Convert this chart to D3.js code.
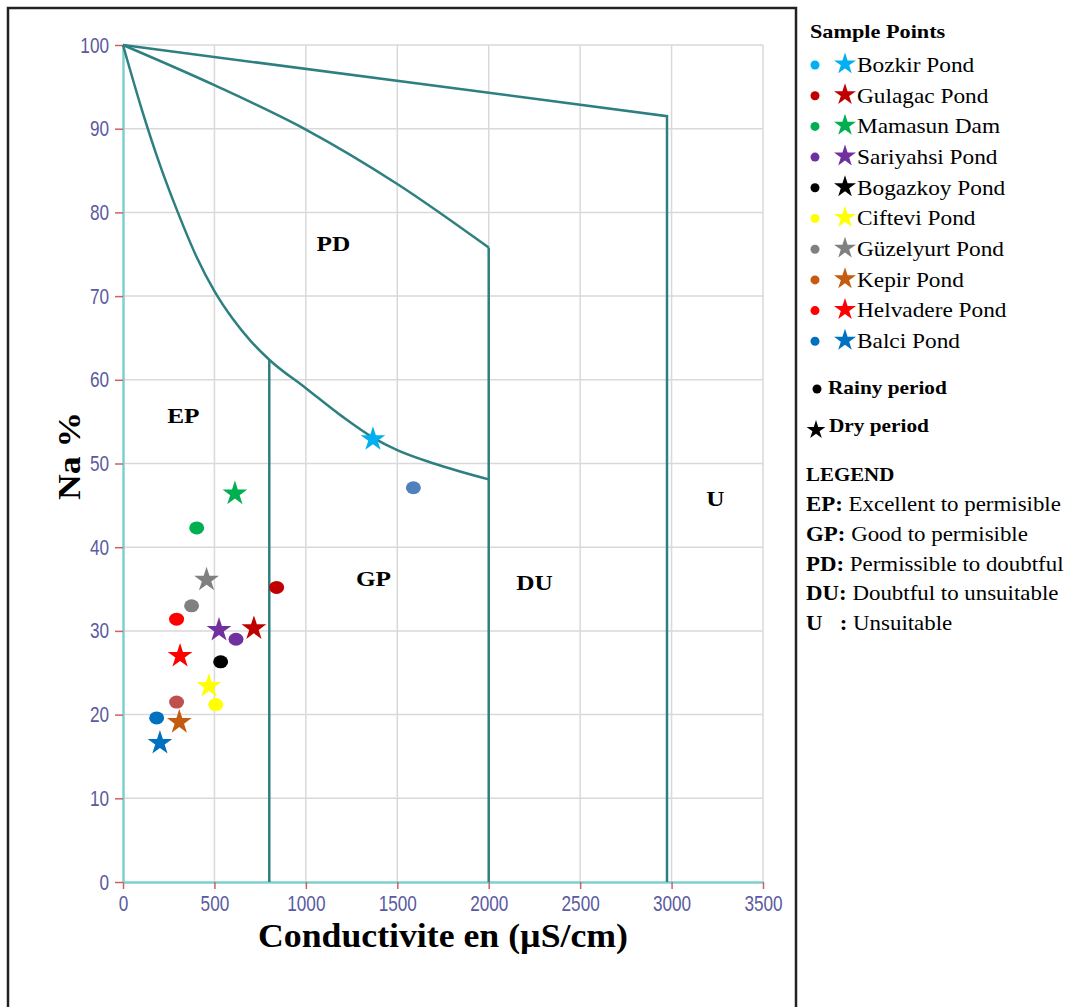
<!DOCTYPE html>
<html>
<head>
<meta charset="utf-8">
<script src="https://cdn.jsdelivr.net/npm/d3@7"></script>
<style>
  body { margin: 0; background: #fff; }
  svg { display: block; }
</style>
</head>
<body>
<div class="chart"></div>
<script>
// Ponds, colours and the two sampling periods (x = conductivity, y = Na %).
const ponds = ["Bozkir Pond", "Gulagac Pond", "Mamasun Dam", "Sariyahsi Pond", "Bogazkoy Pond",
  "Ciftevi Pond", "Güzelyurt Pond", "Kepir Pond", "Helvadere Pond", "Balci Pond"];
const pondColors = ["#00b0f0", "#c00000", "#00b050", "#7030a0", "#000000",
  "#ffff00", "#808080", "#c55a11", "#ff0000", "#0070c0"];
// colours actually used for the rainy dots in the plot
const rainyColors = ["#4f81bd", "#c00000", "#00b050", "#7030a0", "#000000",
  "#ffff00", "#808080", "#c0504d", "#ff0000", "#0070c0"];
const rainyEC = [1588, 840, 403, 618, 534, 507, 375, 293, 293, 184];
const rainyNa = [47.1, 35.2, 42.3, 29.0, 26.3, 21.2, 33.0, 21.5, 31.4, 19.6];
const dryEC = [1367, 716, 612, 525, null, 470, 457, 308, 312, 202];
const dryNa = [52.9, 30.3, 46.4, 30.1, null, 23.4, 36.1, 19.1, 27.0, 16.6];

// Wilcox boundaries
const upperLine = [[0, 100], [2975, 91.5], [2975, 0]];
const middleCurve = [[0, 100], [500, 95.2], [1000, 89.9], [1500, 83.4], [2000, 75.8]];
const middleDrop = [[2000, 75.8], [2000, 0]];
const lowerCurve = [[0, 100], [100, 92.5], [200, 85.8], [300, 80], [400, 74.8], [500, 70.6],
  [600, 67.3], [700, 64.6], [800, 62.4], [1000, 59], [1200, 55.6], [1367, 53.1], [1500, 51.6],
  [1700, 50], [2000, 48.1]];
const epLine = [[800, 62.4], [800, 0]];

const zoneLabels = ["PD", "EP", "GP", "DU", "U"];
const zoneX = [1150, 330, 1370, 2250, 3240];
const zoneY = [76, 55.5, 36, 35.5, 45.5];

const xTicks = [0, 500, 1000, 1500, 2000, 2500, 3000, 3500];
const yTicks = [0, 10, 20, 30, 40, 50, 60, 70, 80, 90, 100];

const legendKeys = ["EP", "GP", "PD", "DU", "U   "];
const legendTexts = ["Excellent to permisible", "Good to permisible",
  "Permissible to doubtful", "Doubtful to unsuitable", "Unsuitable"];

const width = 1072, height = 1007;
const plot = { left: 123, right: 763, top: 45, bottom: 882 };
const serif = "'Liberation Serif', 'Times New Roman', serif";
const sans = "'Liberation Sans', Arial, sans-serif";
const teal = "#2e8080";

// widen / narrow a text selection horizontally
function stretch(sel, k) {
  sel.each(function () {
    const len = this.getComputedTextLength();
    d3.select(this).attr("textLength", len * k).attr("lengthAdjust", "spacingAndGlyphs");
  });
}

const svg = d3.select(".chart").append("svg")
  .attr("width", width).attr("height", height);

// outer frame
svg.append("rect").attr("x", 8).attr("y", 8).attr("width", 788).attr("height", 1010)
  .attr("fill", "none").attr("stroke", "#222").attr("stroke-width", 2.5);

const xScale = d3.scaleLinear().domain([0, 3500]).range([plot.left, plot.right]);
const yScale = d3.scaleLinear().domain([0, 100]).range([plot.bottom, plot.top]);

// grid
const grid = svg.append("g").attr("stroke", "#d9d9d9").attr("stroke-width", 1.5);
grid.selectAll("line.v").data(xTicks.slice(1)).join("line")
  .attr("x1", d => xScale(d)).attr("x2", d => xScale(d))
  .attr("y1", plot.top).attr("y2", plot.bottom);
grid.selectAll("line.h").data(yTicks.slice(1)).join("line")
  .attr("x1", plot.left).attr("x2", plot.right)
  .attr("y1", d => yScale(d)).attr("y2", d => yScale(d));

// axes
const xAxis = svg.append("g").attr("transform", `translate(0,${plot.bottom})`)
  .call(d3.axisBottom(xScale).tickValues(xTicks).tickFormat(d3.format("d"))
    .tickSize(7).tickSizeOuter(0).tickPadding(6));
const yAxis = svg.append("g").attr("transform", `translate(${plot.left},0)`)
  .call(d3.axisLeft(yScale).tickValues(yTicks).tickFormat(d3.format("d"))
    .tickSize(8).tickSizeOuter(0).tickPadding(6));
[xAxis, yAxis].forEach(a => {
  a.select(".domain").attr("stroke", "#7fcfcf").attr("stroke-width", 2.5);
  a.selectAll(".tick line").attr("stroke", "#d06060").attr("stroke-width", 1.5);
  a.selectAll(".tick text").attr("fill", "#5a5aa0")
    .style("font-family", sans).style("font-size", "22px");
  stretch(a.selectAll(".tick text"), 0.78);
});

// boundary lines
const line = d3.line().x(d => xScale(d[0])).y(d => yScale(d[1]));
const curve = d3.line().x(d => xScale(d[0])).y(d => yScale(d[1])).curve(d3.curveMonotoneX);
svg.append("g").attr("fill", "none").attr("stroke", teal).attr("stroke-width", 2.5)
  .selectAll("path").data([upperLine, middleDrop, epLine]).join("path").attr("d", line);
svg.append("g").attr("fill", "none").attr("stroke", teal).attr("stroke-width", 2.5)
  .selectAll("path").data([middleCurve, lowerCurve]).join("path").attr("d", curve);

// zone labels
const zones = svg.append("g").selectAll("text").data(zoneLabels).join("text")
  .attr("x", (d, i) => xScale(zoneX[i])).attr("y", (d, i) => yScale(zoneY[i]))
  .attr("text-anchor", "middle").attr("dominant-baseline", "middle")
  .style("font-family", serif).style("font-weight", "bold").style("font-size", "22px")
  .text(d => d);
stretch(zones, 1.15);

// points
const star = d3.symbol().type(d3.symbolStar);
const pts = svg.append("g");
pts.selectAll("ellipse").data(ponds).join("ellipse")
  .attr("cx", (d, i) => xScale(rainyEC[i])).attr("cy", (d, i) => yScale(rainyNa[i]))
  .attr("rx", 7.5).attr("ry", 6.5)
  .attr("fill", (d, i) => rainyColors[i]);
pts.selectAll("path").data(ponds.map((p, i) => i).filter(i => dryEC[i] !== null)).join("path")
  .attr("transform", i => `translate(${xScale(dryEC[i])},${yScale(dryNa[i])})`)
  .attr("d", star.size(190)())
  .attr("fill", i => pondColors[i]);

// axis titles
svg.append("text").attr("x", 443).attr("y", 947).attr("text-anchor", "middle")
  .attr("textLength", 370).attr("lengthAdjust", "spacingAndGlyphs")
  .style("font-family", serif).style("font-weight", "bold").style("font-size", "33px")
  .text("Conductivite en (µS/cm)");
svg.append("text").attr("transform", "translate(80,456) rotate(-90)").attr("text-anchor", "middle")
  .attr("textLength", 88).attr("lengthAdjust", "spacingAndGlyphs")
  .style("font-family", serif).style("font-weight", "bold").style("font-size", "31px")
  .text("Na %");

// legend
const legend = svg.append("g").style("font-family", serif);
const head = legend.append("text").attr("x", 810).attr("y", 38)
  .style("font-weight", "bold").style("font-size", "19px").text("Sample Points");
stretch(head, 1.17);
const rows = legend.selectAll("g.row").data(ponds).join("g")
  .attr("transform", (d, i) => `translate(0,${66 + i * 30.7})`);
rows.append("circle").attr("cx", 815).attr("cy", -1).attr("r", 4.5)
  .attr("fill", (d, i) => pondColors[i]);
rows.append("path").attr("transform", "translate(845,-2)")
  .attr("d", star.size(150)()).attr("fill", (d, i) => pondColors[i]);
const rowText = rows.append("text").attr("x", 857).attr("y", 1).attr("dominant-baseline", "middle")
  .style("font-size", "21px").text(d => d);
stretch(rowText, 1.11);

legend.append("circle").attr("cx", 817).attr("cy", 389).attr("r", 4.5).attr("fill", "#000");
const rainy = legend.append("text").attr("x", 828).attr("y", 390).attr("dominant-baseline", "middle")
  .style("font-weight", "bold").style("font-size", "19px").text("Rainy period");
legend.append("path").attr("transform", "translate(816,430)")
  .attr("d", star.size(110)()).attr("fill", "#000");
const dry = legend.append("text").attr("x", 829).attr("y", 428).attr("dominant-baseline", "middle")
  .style("font-weight", "bold").style("font-size", "19px").text("Dry period");
stretch(rainy, 1.12);
stretch(dry, 1.12);

const lhead = legend.append("text").attr("x", 806).attr("y", 481)
  .style("font-weight", "bold").style("font-size", "19px").text("LEGEND");
stretch(lhead, 1.1);
const lrows = legend.selectAll("text.key").data(legendKeys).join("text")
  .attr("class", "key").attr("x", 806).attr("y", (d, i) => 511 + i * 29.8)
  .style("font-size", "21px").style("white-space", "pre");
lrows.append("tspan").style("font-weight", "bold").text(d => d + ":");
lrows.append("tspan").text((d, i) => " " + legendTexts[i]);
stretch(lrows, 1.09);
</script>
</body>
</html>
